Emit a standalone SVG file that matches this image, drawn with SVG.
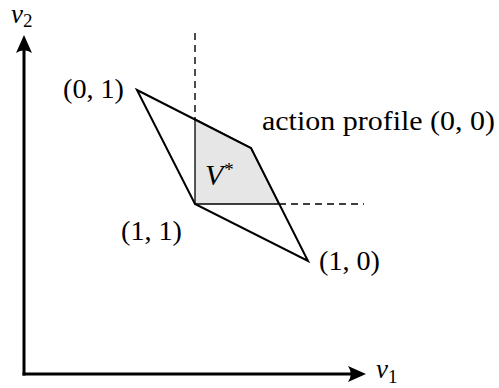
<svg xmlns="http://www.w3.org/2000/svg" width="499" height="388" viewBox="0 0 499 388">
<style>
text{font-family:"Liberation Serif","Times New Roman",serif;fill:#000;font-size:27px}
.it{font-style:italic}
.sub{font-size:19px}
.dash{stroke:#000;stroke-width:1.4;stroke-dasharray:7,5;fill:none}
.axis{stroke:#000;stroke-width:3;fill:none}
</style>
<rect width="499" height="388" fill="#fff"/>
<g id="region">
<polygon points="195,119 251,148 279,204 195,204" fill="#e6e6e6" stroke="#000" stroke-width="1.3"/>
</g>
<g id="connectors">
<line class="dash" x1="195" y1="33" x2="195" y2="119"/>
<line class="dash" x1="279" y1="204" x2="364" y2="204"/>
<polygon points="137,90 251,148 308,261 195,204" fill="none" stroke="#000" stroke-width="2" stroke-linejoin="miter"/>
<line class="axis" x1="24" y1="375.5" x2="24" y2="46"/>
<line class="axis" x1="22.5" y1="374" x2="356" y2="374"/>
<path d="M24,35 L32,53 Q24,47.5 16,53 Z" fill="#000"/>
<path d="M366,374 L348,382 Q353.5,374 348,366 Z" fill="#000"/>
</g>
<g id="labels">
<text x="63" y="98" textLength="61" lengthAdjust="spacingAndGlyphs">(0, 1)</text>
<text x="262" y="130" textLength="233" lengthAdjust="spacingAndGlyphs">action profile (0, 0)</text>
<text x="205" y="185"><tspan class="it" font-size="30">V</tspan><tspan class="sub" dx="1" dy="-9">*</tspan></text>
<text x="121" y="240" textLength="61" lengthAdjust="spacingAndGlyphs">(1, 1)</text>
<text x="319" y="270" textLength="61" lengthAdjust="spacingAndGlyphs">(1, 0)</text>
<text x="11" y="23" font-size="25"><tspan class="it">v</tspan><tspan class="sub" font-size="18" dy="4">2</tspan></text>
<text x="376" y="378"><tspan class="it">v</tspan><tspan class="sub" dy="5">1</tspan></text>
</g>
</svg>
